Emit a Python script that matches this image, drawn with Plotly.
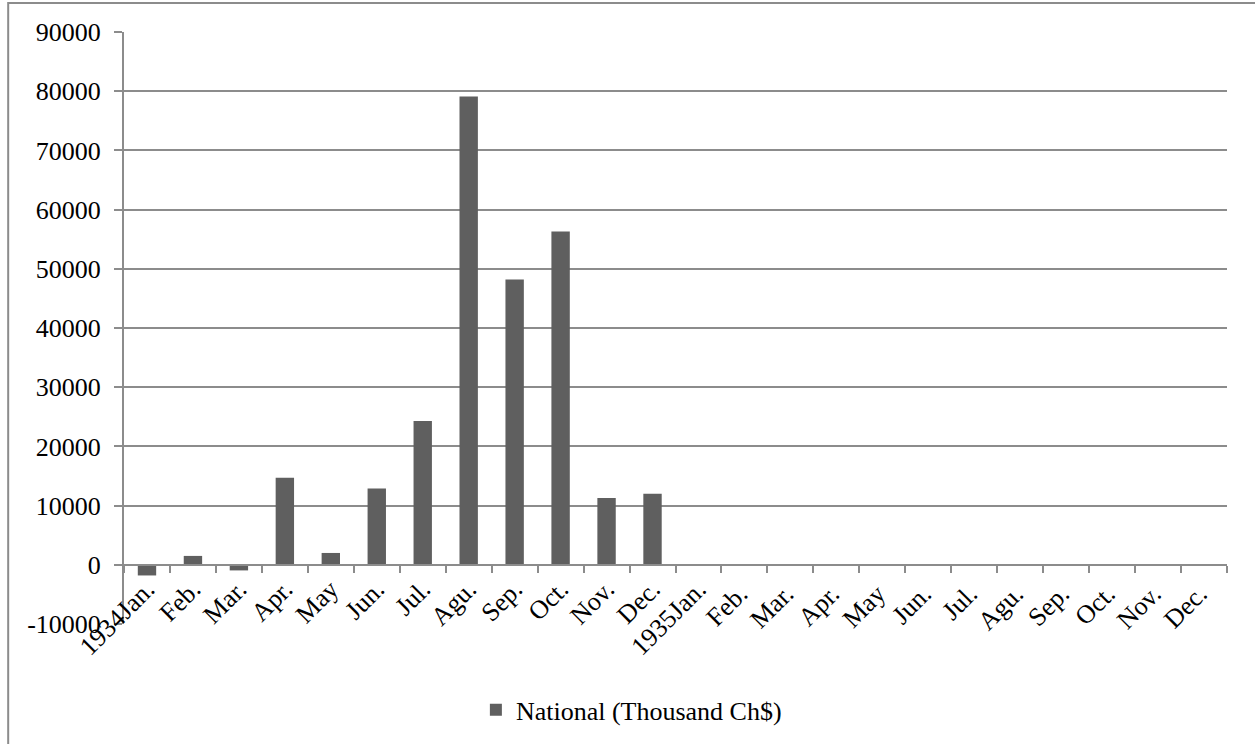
import plotly.graph_objects as go

# Monthly figures, 1934-1935
months = ["1934Jan.", "Feb.", "Mar.", "Apr.", "May", "Jun.", "Jul.", "Agu.", "Sep.", "Oct.", "Nov.", "Dec.",
          "1935Jan.", "Feb. ", "Mar. ", "Apr. ", "May ", "Jun. ", "Jul. ", "Agu. ", "Sep. ", "Oct. ", "Nov. ", "Dec. "]
national = [-1800, 1500, -950, 14700, 2000, 12900, 24300, 79100, 48200, 56300, 11300, 12000,
            None, None, None, None, None, None, None, None, None, None, None, None]
y_ticks = [-10000, 0, 10000, 20000, 30000, 40000, 50000, 60000, 70000, 80000, 90000]

FONT = "Liberation Serif"
FSIZE = 26
GRID = "#8c8c8c"
BAR = "#5f5f5f"

fig = go.Figure()

# Bars drawn against the category axis that sits on the zero line
fig.add_trace(go.Bar(
    x=months, y=national, name="National (Thousand Ch$)",
    marker=dict(color=BAR, line=dict(width=0)),
    xaxis="x", yaxis="y",
))

# Invisible companion trace so the label axis has categories
fig.add_trace(go.Scatter(
    x=months, y=[None] * len(months), mode="markers",
    showlegend=False, hoverinfo="skip", xaxis="x2", yaxis="y",
))

fig.update_layout(
    width=1255, height=744,
    margin=dict(l=124, r=28, t=32, b=119),
    paper_bgcolor="white", plot_bgcolor="white",
    font=dict(family=FONT, size=FSIZE, color="black"),
    bargap=0.6,
    showlegend=True,
    legend=dict(
        orientation="h", x=0.46, y=-0.143, xanchor="center", yanchor="middle",
        font=dict(family=FONT, size=FSIZE, color="black"),
        itemwidth=30,
    ),
    xaxis=dict(
        type="category", anchor="free", position=0.1,
        showline=True, linecolor=GRID, linewidth=2,
        ticks="outside", tickson="boundaries", ticklen=7, tickcolor=GRID, tickwidth=2,
        showticklabels=False, showgrid=False, zeroline=False,
        range=[-0.5, len(months) - 0.5],
    ),
    xaxis2=dict(
        type="category", overlaying="x", matches="x", anchor="free", position=0.095,
        showline=False, ticks="", showgrid=False, zeroline=False,
        tickangle=-45, tickfont=dict(family=FONT, size=FSIZE, color="black"),
    ),
    yaxis=dict(
        range=[-10000, 90000], tickvals=y_ticks, ticktext=[str(v) for v in y_ticks],
        showline=True, linecolor=GRID, linewidth=2,
        ticks="outside", ticklen=8, tickcolor=GRID, tickwidth=2,
        showgrid=True, gridcolor=GRID, gridwidth=2,
        zeroline=True, zerolinecolor=GRID, zerolinewidth=2,
        tickfont=dict(family=FONT, size=FSIZE, color="black"),
        ticklabelstandoff=8,
    ),
    shapes=[dict(
        type="rect", xref="paper", yref="paper",
        x0=-0.105, y0=-0.3, x1=1.1, y1=1.049,
        line=dict(color=GRID, width=2), fillcolor="rgba(0,0,0,0)", layer="below",
    )],
)

fig.write_html("out.html")
